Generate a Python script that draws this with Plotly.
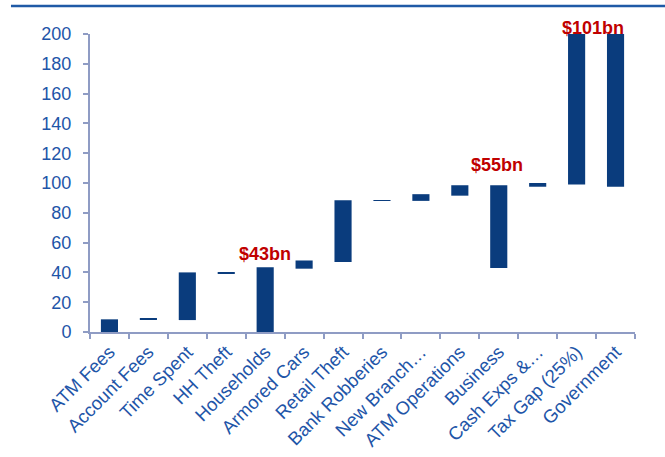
import plotly.graph_objects as go

categories = ["ATM Fees", "Account Fees", "Time Spent", "HH Theft", "Households",
              "Armored Cars", "Retail Theft", "Bank Robberies", "New Branch…",
              "ATM Operations", "Business", "Cash Exps &…", "Tax Gap (25%)", "Government"]
bar_bottom = [0, 8.2, 8, 39, 0, 42.5, 47, 88, 88, 91.5, 43, 97.5, 99, 97.5]
bar_top = [8.5, 8.9, 40, 40, 43.5, 48, 88.5, 88.4, 92.5, 98.5, 98.5, 100, 200, 200]
annot_cats = ["Households", "Business", "Tax Gap (25%)"]
annot_vals = [43.5, 98.5, 200]
annot_text = ["$43bn", "$55bn", "$101bn"]
annot_yshift = [1, 8, -6]
annot_xshift = [0, -2, 16]

heights = [t - b for t, b in zip(bar_top, bar_bottom)]

fig = go.Figure()
fig.add_trace(go.Bar(x=categories, y=heights, base=bar_bottom,
                     marker=dict(color="#0A3C7D", line=dict(width=0)),
                     width=0.44, hoverinfo="skip"))

for c, v, t, ys, xs in zip(annot_cats, annot_vals, annot_text, annot_yshift, annot_xshift):
    fig.add_annotation(x=c, y=v, text="<b>" + t + "</b>", showarrow=False,
                       yanchor="bottom", yshift=ys, xshift=xs,
                       font=dict(family="Liberation Sans, Arial", size=18, color="#C00000"))

fig.add_shape(type="line", xref="paper", yref="paper", x0=-0.145, x1=1.06,
              y0=1.094, y1=1.094, line=dict(color="#1F5AA6", width=2.5))

axis_col = "#8F9CC4"
text_col = "#1E55A8"
fig.update_layout(
    width=665, height=457,
    margin=dict(l=90, r=30, t=34, b=125),
    plot_bgcolor="white", paper_bgcolor="white",
    showlegend=False,
    font=dict(family="Liberation Sans, Arial", size=18, color=text_col),
    xaxis=dict(showline=True, linecolor=axis_col, linewidth=2, ticks="outside",
               tickson="boundaries", tickcolor=axis_col, ticklen=5, tickwidth=2,
               tickangle=-45, tickfont=dict(size=18.5, color=text_col),
               showgrid=False, zeroline=False, range=[-0.5, 13.5], automargin=False),
    yaxis=dict(range=[0, 200], dtick=20, showline=True, linecolor=axis_col, linewidth=2,
               ticks="outside", tickcolor=axis_col, ticklen=5, tickwidth=2,
               ticklabelstandoff=8,
               tickfont=dict(size=18, color=text_col), showgrid=False, zeroline=False,
               automargin=False),
)

fig.write_html("out.html", config={"displayModeBar": False},
               post_script="document.body.style.margin='0';document.body.style.overflow='hidden';")
